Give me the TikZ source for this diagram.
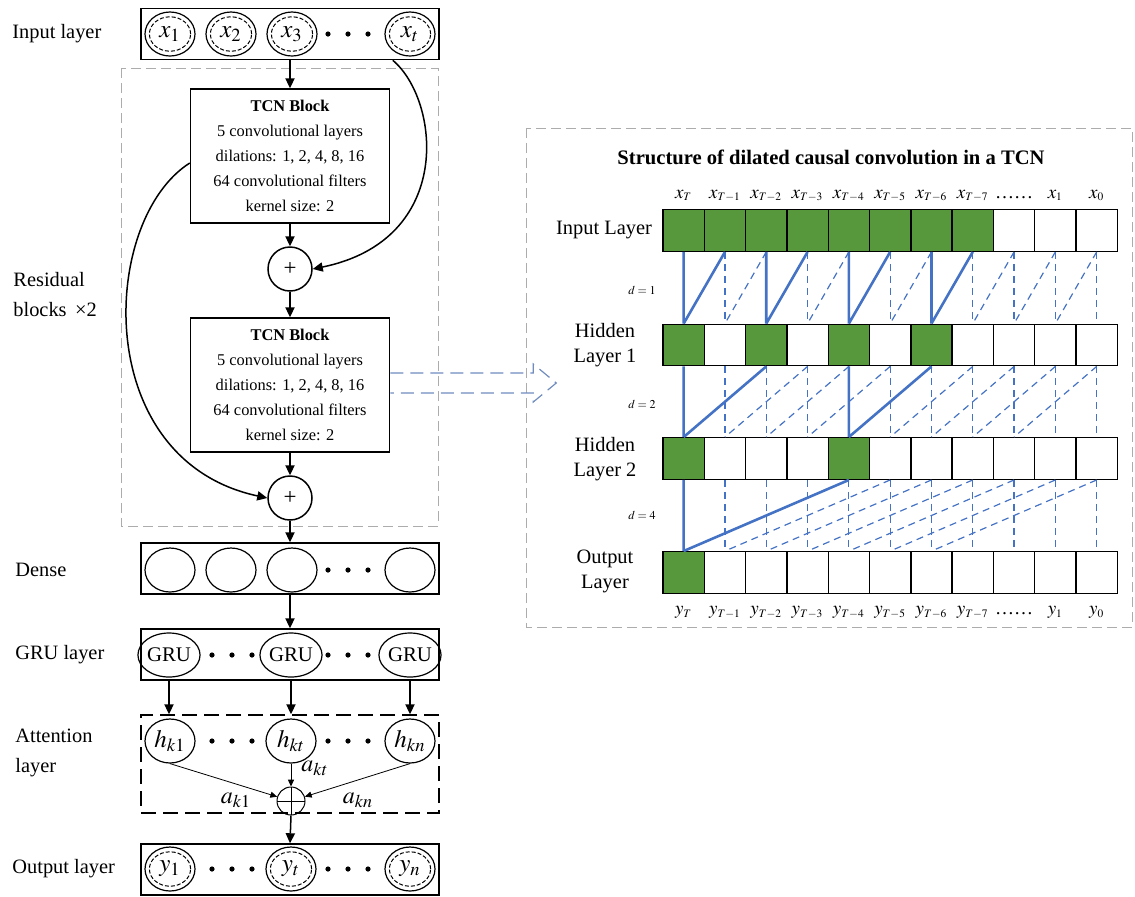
\documentclass[tikz,border=0pt]{standalone}
\usepackage{mathptmx}
\usepackage{fontspec}
\setmainfont{Liberation Serif}
\usepackage{xcolor}
\usepackage{tikz}
\usetikzlibrary{shapes,arrows,arrows.meta}
\usetikzlibrary{positioning}

\definecolor{tcngreen}{RGB}{88,152,60}
\definecolor{tcnblue}{RGB}{68,114,196}
\definecolor{flowblue}{RGB}{112,140,190}

\tikzstyle{lbl} = [font=\fontsize{10.2}{15}\selectfont, align=left, anchor=west, inner sep=0]
\tikzstyle{layer} = [rectangle, draw, line width=0.75pt, minimum width=149pt,
    minimum height=25.5pt, inner sep=0]
\tikzstyle{unit} = [ellipse, draw, line width=0.6pt, minimum width=25pt, minimum height=22pt,
    inner sep=0, font=\fontsize{12.5}{14}\selectfont]
\tikzstyle{dunit} = [unit, path picture={\draw[line width=0.5pt, dash pattern=on 2pt off 1pt]
    (path picture bounding box.center) ellipse [x radius=10.3pt, y radius=8.6pt];}]
\tikzstyle{gru} = [unit, minimum width=24pt, font=\fontsize{10.4}{12}\selectfont]
\tikzstyle{bullet} = [circle, fill, inner sep=0, minimum size=2.6pt]
\tikzstyle{block} = [rectangle, draw, line width=0.75pt, minimum width=99.5pt,
    minimum height=67pt, align=center, font=\fontsize{8.2}{12.5}\selectfont]
\tikzstyle{sum} = [circle, draw, line width=0.75pt, minimum size=22pt, inner sep=0,
    font=\fontsize{11.5}{12}\selectfont]
\tikzstyle{wsum} = [circle, draw, line width=0.5pt, minimum size=14pt, inner sep=0,
    path picture={\draw[line width=0.5pt]
      (path picture bounding box.west) -- (path picture bounding box.east)
      (path picture bounding box.north) -- (path picture bounding box.south);}]
\tikzstyle{line} = [draw, line width=0.75pt, -{Triangle[length=5pt,width=4.6pt]}]
\tikzstyle{weight} = [draw, line width=0.4pt, -{Triangle[length=3.4pt,width=3pt]}]
\tikzstyle{resbox} = [draw=gray!65, line width=0.5pt, dash pattern=on 5pt off 2.5pt]
\tikzstyle{attbox} = [rectangle, draw, line width=0.75pt, dash pattern=on 7.5pt off 3.5pt,
    minimum width=149pt, minimum height=49pt, inner sep=0]
\tikzstyle{albl} = [inner sep=0, font=\fontsize{12}{14}\selectfont]
\tikzstyle{flow} = [draw=flowblue, line width=0.6pt, dash pattern=on 6.5pt off 3.5pt]
\tikzstyle{ttl} = [font=\bfseries\fontsize{10.3}{12}\selectfont, inner sep=0]
\tikzstyle{rlbl} = [font=\fontsize{10.2}{12.5}\selectfont, align=center, inner sep=0]
\tikzstyle{dlbl} = [font=\fontsize{6}{7}\selectfont, inner sep=0]
\tikzstyle{idx} = [font=\fontsize{9.5}{12}\selectfont, anchor=base, inner sep=0]
\tikzstyle{cell} = [rectangle, draw, line width=0.7pt, minimum width=20.65pt,
    minimum height=20.75pt, inner sep=0]
\tikzstyle{conn} = [draw=tcnblue, line width=1.3pt]
\tikzstyle{dconn} = [draw=tcnblue, line width=0.6pt, dash pattern=on 3.5pt off 2.5pt]

\begin{document}
\begin{tikzpicture}[x=0.5pt, y=-0.5pt]
  \useasboundingbox (0,0) rectangle (1135,896);

  % Left column: layer names
  \node[lbl] (linput) at (12,34) {Input layer};
  \node[lbl] (lres) at (13,295) {Residual\\blocks \,×2};
  \node[lbl] (ldense) at (15,570) {Dense};
  \node[lbl] (lgru) at (15,655) {GRU layer};
  \node[lbl] (latt) at (15,753) {Attention\\layer};
  \node[lbl] (lout) at (12,869) {Output layer};

  % Input layer
  \node[layer] (inbox) at (290,34) {};
  \node[dunit] (x1) at (170,34) {$x_1$};
  \node[dunit] (x2) at (231,34) {$x_2$};
  \node[dunit] (x3) at (292,34) {$x_3$};
  \node[dunit] (xt) at (410,34) {$x_t$};
  \foreach \x in {328,348,368} \node[bullet] (din\x) at (\x,34) {};

  % Residual blocks
  \draw[resbox] (121,68) rectangle (438,526);
  \node[block] (tcn1) at (290,156) {\textbf{TCN Block}\\5 convolutional layers\\dilations: 1, 2, 4, 8, 16\\64 convolutional filters\\kernel size: 2};
  \node[sum] (plus1) at (290,269) {+};
  \node[block] (tcn2) at (290,385) {\textbf{TCN Block}\\5 convolutional layers\\dilations: 1, 2, 4, 8, 16\\64 convolutional filters\\kernel size: 2};
  \node[sum] (plus2) at (290,498) {+};

  % Dense and GRU
  \node[layer] (dense) at (290,568.5) {};
  \node[unit] (n1) at (170,570) {};
  \node[unit] (n2) at (231,570) {};
  \node[unit] (n3) at (292,570) {};
  \node[unit] (n4) at (410,570) {};
  \foreach \x in {328,348,368} \node[bullet] (dde\x) at (\x,570) {};

  \node[layer] (grubox) at (290,654.5) {};
  \node[gru] (gru1) at (169,655) {GRU};
  \node[gru] (gru2) at (291,655) {GRU};
  \node[gru] (gru3) at (410,655) {GRU};
  \foreach \x in {212,232,252,328,348,368} \node[bullet] (dgr\x) at (\x,655) {};

  % Attention layer
  \node[attbox] (att) at (290,764) {};
  \node[unit] (hk1) at (170,741) {$h_{k1}$};
  \node[unit] (hkt) at (291,741) {$h_{kt}$};
  \node[unit] (hkn) at (410,741) {$h_{kn}$};
  \foreach \x in {212,232,252,328,348,368} \node[bullet] (dat\x) at (\x,741) {};
  \node[wsum] (oplus) at (291,801) {};
  \node[albl] (ak1) at (236,800) {$a_{k1}$};
  \node[albl] (akt) at (315,768) {$a_{kt}$};
  \node[albl] (akn) at (358,800) {$a_{kn}$};

  % Output layer
  \node[layer] (outbox) at (290,869.5) {};
  \node[dunit] (y1) at (170,869) {$y_1$};
  \node[dunit] (yt) at (291,869) {$y_t$};
  \node[dunit] (yn) at (410,869) {$y_n$};
  \foreach \x in {212,232,252,328,348,368} \node[bullet] (dou\x) at (\x,869) {};

  % Left column arrows
  \path[line] (inbox.south) -- (tcn1.north);
  \path[line] (tcn1.south) -- (plus1.north);
  \path[line] (plus1.south) -- (tcn2.north);
  \path[line] (tcn2.south) -- (plus2.north);
  \path[line] (plus2.south) -- (dense.north);
  \path[line] ([xshift=-23.5pt]inbox.south east) .. controls (440,100) and (455,240) .. (plus1.east);
  \path[line] ([yshift=-3.5pt]tcn1.west) .. controls (100,220) and (90,460) .. (plus2.west);
  \path[line] (dense.south) -- (grubox.north);
  \foreach \g in {gru1,gru2,gru3} \path[line] (\g |- grubox.south) -- (\g |- att.north);
  \path[weight] (hk1.south) -- (oplus);
  \path[weight] (hkt) -- (oplus);
  \path[weight] (hkn.south) -- (oplus);
  \path[line] (oplus.south) -- (outbox.north);

  % Right panel
  \draw[resbox] (526,128) rectangle (1132,627);
  \node[ttl] (title) at (831,157) {Structure of dilated causal convolution in a TCN};

  \node[rlbl] (rin) at (604,230) {Input Layer};
  \node[rlbl] (rh1) at (605,345) {Hidden\\Layer 1};
  \node[rlbl] (rh2) at (605,459) {Hidden\\Layer 2};
  \node[rlbl] (rout) at (605,571) {Output\\Layer};
  \node[dlbl] (d1) at (642,290) {$d=1$};
  \node[dlbl] (d2) at (642,404) {$d=2$};
  \node[dlbl] (d4) at (642,515) {$d=4$};

  \foreach \i in {1,...,11} {
    \def\cellcol{white}
    \ifnum\i<9 \def\cellcol{tcngreen}\fi
    \node[cell, fill=\cellcol] (r0-\i) at ({663+41.3*(\i-0.5)},230.5) {};
  }
  \foreach \i in {1,...,11} {
    \def\cellcol{white}
    \ifodd\i \ifnum\i<8 \def\cellcol{tcngreen}\fi\fi
    \node[cell, fill=\cellcol] (r1-\i) at ({663+41.3*(\i-0.5)},345) {};
  }
  \foreach \i in {1,...,11} {
    \def\cellcol{white}
    \ifnum\i=1 \def\cellcol{tcngreen}\fi
    \ifnum\i=5 \def\cellcol{tcngreen}\fi
    \node[cell, fill=\cellcol] (r2-\i) at ({663+41.3*(\i-0.5)},458.5) {};
  }
  \foreach \i in {1,...,11} {
    \def\cellcol{white}
    \ifnum\i=1 \def\cellcol{tcngreen}\fi
    \node[cell, fill=\cellcol] (r3-\i) at ({663+41.3*(\i-0.5)},572.5) {};
  }

  % time step labels
  \foreach \i/\t in {1/T,2/T-1,3/T-2,4/T-3,5/T-4,6/T-5,7/T-6,8/T-7,10/1,11/0} {
    \node[idx] (xl-\i) at ([yshift=5.5pt]r0-\i.north) {$x_{\scriptscriptstyle\t}$};
    \node[idx] (yl-\i) at ([yshift=-10.5pt]r3-\i.south) {$y_{\scriptscriptstyle\t}$};
  }
  \node[idx] (xl-9) at ([yshift=5.5pt]r0-9.north) {\dots\dots};
  \node[idx] (yl-9) at ([yshift=-10.5pt]r3-9.south) {\dots\dots};

  % d = 1
  \foreach \i in {2,4,6,8,9,10,11} \path[dconn] (r0-\i.south) -- (r1-\i.north);
  \foreach \i/\j in {2/3,4/5,6/7,8/9,9/10,10/11} \path[dconn] (r0-\j.south) -- (r1-\i.north);
  \foreach \i/\j in {1/2,3/4,5/6,7/8} \path[conn] (r0-\i.south) -- (r1-\i.north) (r0-\j.south) -- (r1-\i.north);
  % d = 2
  \foreach \i in {2,3,4,6,7,8,9,10,11} \path[dconn] (r1-\i.south) -- (r2-\i.north);
  \foreach \i/\j in {2/4,3/5,4/6,6/8,7/9,8/10,9/11} \path[dconn] (r1-\j.south) -- (r2-\i.north);
  \foreach \i/\j in {1/3,5/7} \path[conn] (r1-\i.south) -- (r2-\i.north) (r1-\j.south) -- (r2-\i.north);
  % d = 4
  \foreach \i in {2,...,11} \path[dconn] (r2-\i.south) -- (r3-\i.north);
  \foreach \i/\j in {2/6,3/7,4/8,5/9,6/10,7/11} \path[dconn] (r2-\j.south) -- (r3-\i.north);
  \path[conn] (r2-1.south) -- (r3-1.north) (r2-5.south) -- (r3-1.north);

  % zoom arrow from the second block
  \draw[flow] ([yshift=6pt]tcn2.east) -- ++(143,0) -- ++(0,-9) -- ++(23,19) -- ++(-23,19)
    -- ++(0,-9) -- ([yshift=-4pt]tcn2.east);
\end{tikzpicture}
\end{document}
